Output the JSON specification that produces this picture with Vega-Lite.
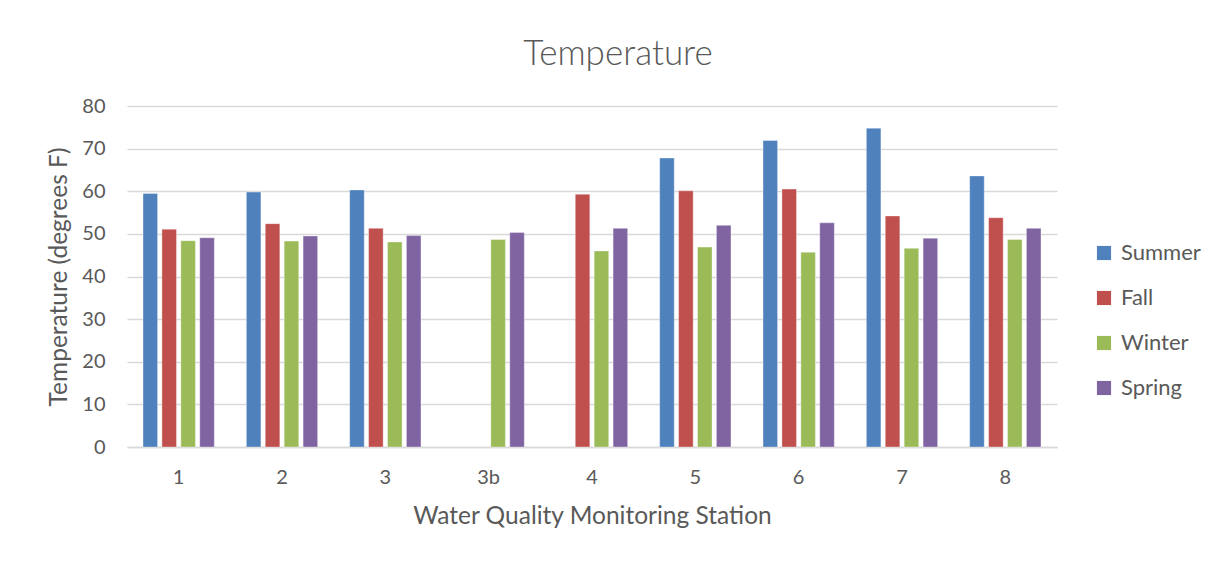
{
  "$schema": "https://vega.github.io/schema/vega-lite/v6.json",
  "autosize": {"type": "none"},
  "padding": {"left": 127, "top": 106, "right": 168, "bottom": 116},
  "width": 930,
  "height": 341,
  "background": "white",
  "title": {
    "text": "Temperature",
    "font": "Lato",
    "fontWeight": 300,
    "fontSize": 35,
    "color": "#595959",
    "anchor": "middle",
    "dx": 26,
    "offset": 24
  },
  "data": {
    "values": [
      {"station": "1", "season": "Summer", "temp": 59.5},
      {"station": "1", "season": "Fall", "temp": 51.1},
      {"station": "1", "season": "Winter", "temp": 48.4},
      {"station": "1", "season": "Spring", "temp": 49.1},
      {"station": "2", "season": "Summer", "temp": 59.8},
      {"station": "2", "season": "Fall", "temp": 52.4},
      {"station": "2", "season": "Winter", "temp": 48.3},
      {"station": "2", "season": "Spring", "temp": 49.5},
      {"station": "3", "season": "Summer", "temp": 60.3},
      {"station": "3", "season": "Fall", "temp": 51.3},
      {"station": "3", "season": "Winter", "temp": 48.1},
      {"station": "3", "season": "Spring", "temp": 49.6},
      {"station": "3b", "season": "Winter", "temp": 48.7},
      {"station": "3b", "season": "Spring", "temp": 50.3},
      {"station": "4", "season": "Fall", "temp": 59.3},
      {"station": "4", "season": "Winter", "temp": 46.0},
      {"station": "4", "season": "Spring", "temp": 51.3},
      {"station": "5", "season": "Summer", "temp": 67.8},
      {"station": "5", "season": "Fall", "temp": 60.1},
      {"station": "5", "season": "Winter", "temp": 46.9},
      {"station": "5", "season": "Spring", "temp": 52.0},
      {"station": "6", "season": "Summer", "temp": 71.9},
      {"station": "6", "season": "Fall", "temp": 60.5},
      {"station": "6", "season": "Winter", "temp": 45.7},
      {"station": "6", "season": "Spring", "temp": 52.6},
      {"station": "7", "season": "Summer", "temp": 74.8},
      {"station": "7", "season": "Fall", "temp": 54.2},
      {"station": "7", "season": "Winter", "temp": 46.6},
      {"station": "7", "season": "Spring", "temp": 49.0},
      {"station": "8", "season": "Summer", "temp": 63.6},
      {"station": "8", "season": "Fall", "temp": 53.8},
      {"station": "8", "season": "Winter", "temp": 48.7},
      {"station": "8", "season": "Spring", "temp": 51.3}
    ]
  },
  "mark": {"type": "bar", "stroke": "white", "strokeOpacity": 0.35, "strokeWidth": 1},
  "encoding": {
    "x": {
      "field": "station",
      "type": "nominal",
      "sort": ["1", "2", "3", "3b", "4", "5", "6", "7", "8"],
      "scale": {"paddingInner": 0.31, "paddingOuter": 0.155},
      "axis": {
        "title": "Water Quality Monitoring Station",
        "titleFont": "Lato",
        "titleFontWeight": "normal",
        "titleFontSize": 24.5,
        "titleColor": "#595959",
        "titlePadding": 17,
        "labelFont": "Lato",
        "labelFontSize": 20,
        "labelColor": "#595959",
        "labelAngle": 0,
        "labelPadding": 20,
        "ticks": false,
        "domainColor": "#D9D9D9",
        "domainWidth": 1.5
      }
    },
    "xOffset": {
      "field": "season",
      "type": "nominal",
      "sort": ["Summer", "Fall", "Winter", "Spring"],
      "scale": {"paddingInner": 0.23}
    },
    "y": {
      "field": "temp",
      "type": "quantitative",
      "scale": {"domain": [0, 80]},
      "axis": {
        "title": "Temperature (degrees F)",
        "titleFont": "Lato",
        "titleFontWeight": "normal",
        "titleFontSize": 24.5,
        "titleColor": "#595959",
        "titlePadding": 10,
        "labelFont": "Lato",
        "labelFontSize": 20,
        "labelColor": "#595959",
        "labelPadding": 22,
        "labelOverlap": false,
        "values": [0, 10, 20, 30, 40, 50, 60, 70, 80],
        "ticks": false,
        "domain": false,
        "gridColor": "#D9D9D9",
        "gridWidth": 1.5
      }
    },
    "color": {
      "field": "season",
      "type": "nominal",
      "sort": ["Summer", "Fall", "Winter", "Spring"],
      "scale": {
        "domain": ["Summer", "Fall", "Winter", "Spring"],
        "range": ["#4F81BD", "#C0504D", "#9BBB59", "#8064A2"]
      },
      "legend": {
        "title": null,
        "orient": "none",
        "legendX": 966,
        "legendY": 136,
        "symbolType": "square",
        "symbolSize": 200,
        "symbolStrokeWidth": 0,
        "labelFont": "Lato",
        "labelFontSize": 22,
        "labelColor": "#595959",
        "labelOffset": 6,
        "rowPadding": 23
      }
    }
  },
  "config": {
    "view": {"stroke": null}
  }
}
